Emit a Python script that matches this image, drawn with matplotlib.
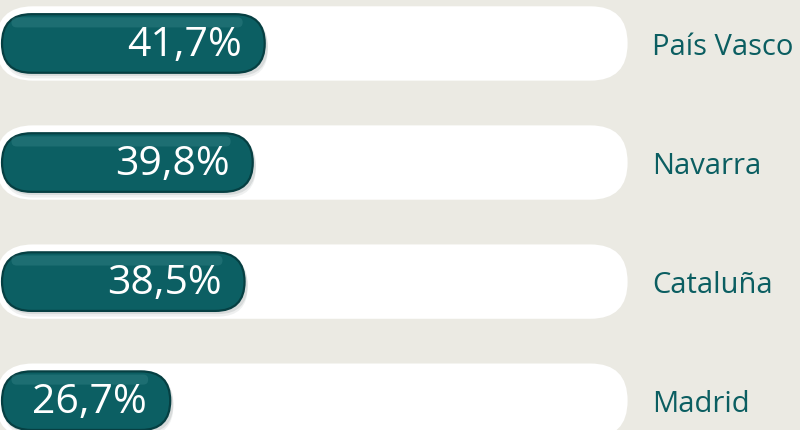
import matplotlib
matplotlib.use("Agg")
import matplotlib.pyplot as plt
from matplotlib.patches import FancyBboxPatch

# data
regions = ["País Vasco", "Navarra", "Cataluña", "Madrid"]
values = [41.7, 39.8, 38.5, 26.7]
value_labels = ["41,7%", "39,8%", "38,5%", "26,7%"]

bg = "#EBEAE3"
teal = "#0C5F63"
teal_dark = "#063F42"
label_col = "#0B5E61"

fig = plt.figure(figsize=(8, 4.3), dpi=100, facecolor=bg)
ax = fig.add_axes([0, 0, 1, 1])
ax.set_facecolor(bg)
# 1 data unit = 6.3 px in both directions
ax.set_xlim(-0.32, -0.32 + 800 / 6.3)
ax.set_ylim(430 / 6.3, 0)
ax.axis("off")

row_gap = 18.9
row0 = 6.9
track_h = 11.8
pill_h = 9.3

for i, (name, v, lab) in enumerate(zip(regions, values, value_labels)):
    yc = row0 + i * row_gap
    # white track (100 %)
    ax.add_patch(FancyBboxPatch((-1 + track_h / 2, yc), 100.3 - track_h, 0,
                                boxstyle="round,pad=%f" % (track_h / 2),
                                fc="white", ec="none", zorder=1))
    r = pill_h / 2
    # soft shadow under pill
    for k, a in [(0.9, 0.12), (0.5, 0.2)]:
        ax.add_patch(FancyBboxPatch((0.2 + r, yc + k), v - 2 * r + 0.3, 0,
                                    boxstyle="round,pad=%f" % r,
                                    fc="#7d8a8a", ec="none", alpha=a, zorder=2))
    # pill
    ax.add_patch(FancyBboxPatch((r, yc), v - 2 * r, 0,
                                boxstyle="round,pad=%f" % r,
                                fc=teal, ec=teal_dark, lw=1.6, zorder=3))
    # top highlight
    hr = 0.8
    ax.add_patch(FancyBboxPatch((1.5 + hr, yc - r + 1.3), v - 3.0 - 2 * hr - 2, 0,
                                boxstyle="round,pad=%f" % hr,
                                fc="#4a9599", ec="none", alpha=0.28, zorder=4))
    ax.text(v - 3.7, yc + 0.4, lab, ha="right", va="center", color="white",
            fontsize=29.5, family="Open Sans", zorder=5)
    ax.text(103.2, yc + 0.6, name, ha="left", va="center", color=label_col,
            fontsize=21, family="Open Sans", zorder=5)

fig.savefig("out.png", dpi=100, facecolor=bg)
